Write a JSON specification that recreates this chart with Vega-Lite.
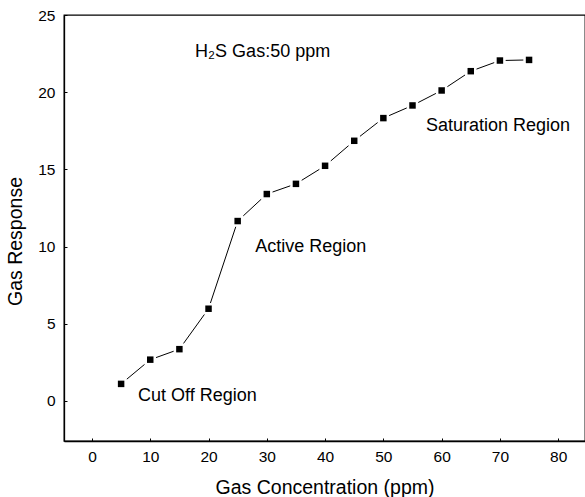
{
  "$schema": "https://vega.github.io/schema/vega-lite/v6.json",
  "width": 521,
  "height": 426,
  "autosize": {"type": "none"},
  "padding": {"left": 64, "top": 15, "right": 0, "bottom": 56},
  "background": "white",
  "config": {
    "view": {"stroke": "black", "strokeWidth": 1.3},
    "font": "Liberation Sans",
    "axis": {
      "domainColor": "black",
      "domainWidth": 1.3,
      "tickColor": "black",
      "tickWidth": 1,
      "labelColor": "black",
      "titleColor": "black",
      "labelFont": "Liberation Sans",
      "titleFont": "Liberation Sans",
      "labelFontSize": 15.5,
      "titleFontSize": 19.5,
      "titleFontWeight": "normal",
      "grid": false
    }
  },
  "datasets": {
    "pts": [
      {"conc": 5, "resp": 1.10},
      {"conc": 10, "resp": 2.67},
      {"conc": 15, "resp": 3.35},
      {"conc": 20, "resp": 5.97},
      {"conc": 25, "resp": 11.65},
      {"conc": 30, "resp": 13.40},
      {"conc": 35, "resp": 14.06},
      {"conc": 40, "resp": 15.23},
      {"conc": 45, "resp": 16.85},
      {"conc": 50, "resp": 18.32},
      {"conc": 55, "resp": 19.14},
      {"conc": 60, "resp": 20.11},
      {"conc": 65, "resp": 21.36},
      {"conc": 70, "resp": 22.05},
      {"conc": 75, "resp": 22.09}
    ],
    "notes": [
      {"conc": 17.7, "resp": 22.27, "text": "H₂S Gas:50 ppm"},
      {"conc": 57.3, "resp": 17.48, "text": "Saturation Region"},
      {"conc": 28.0, "resp": 9.66, "text": "Active Region"},
      {"conc": 7.9, "resp": 0.02, "text": "Cut Off Region"}
    ]
  },
  "layer": [
    {
      "data": {"name": "pts"},
      "mark": {"type": "line", "color": "black", "strokeWidth": 1},
      "encoding": {
        "x": {
          "field": "conc", "type": "quantitative",
          "scale": {"domain": [-4.8, 84.6], "nice": false, "zero": false},
          "axis": {
            "title": "Gas Concentration (ppm)",
            "values": [0, 5, 10, 15, 20, 25, 30, 35, 40, 45, 50, 55, 60, 65, 70, 75, 80],
            "labelExpr": "datum.value % 10 === 0 ? datum.label : ''",
            "labelOverlap": false,
            "tickSize": -3,
            "labelPadding": 11,
            "titleY": 52,
            "titleBaseline": "alphabetic"
          }
        },
        "y": {
          "field": "resp", "type": "quantitative",
          "scale": {"domain": [-2.6, 25], "nice": false, "zero": false},
          "axis": {
            "title": "Gas Response",
            "values": [0, 5, 10, 15, 20, 25],
            "labelOverlap": false,
            "tickSize": -3,
            "labelPadding": 12,
            "titleX": -43,
            "titleY": 226,
            "titleBaseline": "alphabetic"
          }
        }
      }
    },
    {
      "data": {"name": "pts"},
      "mark": {"type": "point", "shape": "square", "filled": true, "color": "white", "opacity": 1, "size": 132},
      "encoding": {
        "x": {"field": "conc", "type": "quantitative"},
        "y": {"field": "resp", "type": "quantitative"}
      }
    },
    {
      "data": {"name": "pts"},
      "mark": {"type": "point", "shape": "square", "filled": true, "color": "black", "opacity": 1, "size": 42},
      "encoding": {
        "x": {"field": "conc", "type": "quantitative"},
        "y": {"field": "resp", "type": "quantitative"}
      }
    },
    {
      "data": {"name": "notes"},
      "mark": {"type": "text", "align": "left", "baseline": "alphabetic", "fontSize": 18, "font": "Liberation Sans", "color": "black"},
      "encoding": {
        "x": {"field": "conc", "type": "quantitative"},
        "y": {"field": "resp", "type": "quantitative"},
        "text": {"field": "text"}
      }
    }
  ]
}
